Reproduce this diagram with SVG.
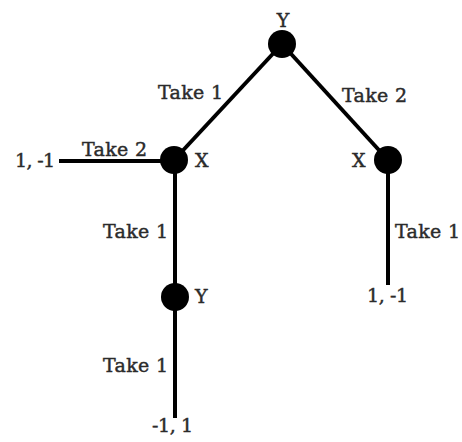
<svg xmlns="http://www.w3.org/2000/svg" width="462" height="442" viewBox="0 0 462 442">
<style>
.e{stroke:#000;stroke-width:4;fill:none;stroke-linecap:butt}
.n{fill:#000}
text{font-family:"DejaVu Serif","Liberation Serif",serif;font-size:19px;fill:#2b2b2b;stroke:#2b2b2b;stroke-width:0.45}
</style>
<rect width="462" height="442" fill="#fff"/>
<g id="connectors">
<line class="e" x1="282" y1="44" x2="174" y2="160"/>
<line class="e" x1="282" y1="44" x2="388" y2="160"/>
<line class="e" x1="59" y1="161" x2="174" y2="161"/>
<line class="e" x1="175" y1="160" x2="175" y2="297"/>
<line class="e" x1="175" y1="297" x2="175" y2="418"/>
<line class="e" x1="388" y1="160" x2="388" y2="285"/>
<text x="158" y="99" textLength="65">Take 1</text>
<text x="342" y="102" textLength="65">Take 2</text>
<text x="82" y="156" textLength="65">Take 2</text>
<text x="103" y="238" textLength="65">Take 1</text>
<text x="103" y="372" textLength="65">Take 1</text>
<text x="395" y="238" textLength="65">Take 1</text>
</g>
<g id="root">
<circle class="n" cx="282" cy="44" r="14"/>
<text x="283" y="27" text-anchor="middle">Y</text>
</g>
<g id="x-left">
<circle class="n" cx="174" cy="160" r="14"/>
<text x="195" y="167">X</text>
</g>
<g id="x-right">
<circle class="n" cx="388" cy="160" r="14"/>
<text x="352" y="167">X</text>
</g>
<g id="y-lower">
<circle class="n" cx="175" cy="297" r="14"/>
<text x="195" y="303">Y</text>
</g>
<g id="leaf-left">
<text x="15" y="167" textLength="40">1, -1</text>
</g>
<g id="leaf-right">
<text x="367" y="302" textLength="41">1, -1</text>
</g>
<g id="leaf-bottom">
<text x="152" y="432" textLength="41">-1, 1</text>
</g>
</svg>
